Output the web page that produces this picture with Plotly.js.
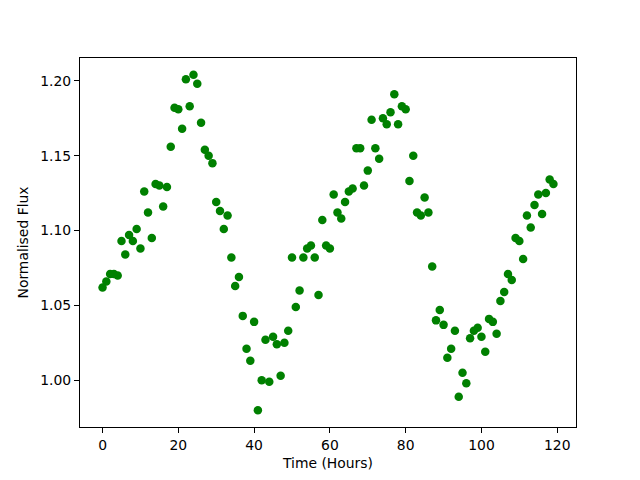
<!DOCTYPE html>
<html>
<head>
<meta charset="utf-8">
<script src="https://cdn.plot.ly/plotly-3.0.1.min.js"></script>
<style>html,body{margin:0;padding:0;background:#fff;}#chart{width:640px;height:480px;}</style>
</head>
<body>
<div id="chart"></div>
<script>
var hours = [];
for (var i = 0; i < 120; i++) hours.push(i);
var flux = [
1.062,1.066,1.071,1.071,1.070,1.093,1.084,1.097,1.093,1.101,
1.088,1.126,1.112,1.095,1.131,1.130,1.116,1.129,1.156,1.182,
1.181,1.168,1.201,1.183,1.204,1.198,1.172,1.154,1.150,1.145,
1.119,1.113,1.101,1.110,1.082,1.063,1.069,1.043,1.021,1.013,
1.039,0.980,1.000,1.027,0.999,1.029,1.024,1.003,1.025,1.033,
1.082,1.049,1.060,1.082,1.088,1.090,1.082,1.057,1.107,1.090,
1.088,1.124,1.112,1.108,1.119,1.126,1.128,1.155,1.155,1.130,
1.140,1.174,1.155,1.148,1.175,1.171,1.179,1.191,1.171,1.183,
1.181,1.133,1.150,1.112,1.110,1.122,1.112,1.076,1.040,1.047,
1.037,1.015,1.021,1.033,0.989,1.005,0.998,1.028,1.033,1.035,
1.029,1.019,1.041,1.039,1.031,1.053,1.059,1.071,1.067,1.095,
1.093,1.081,1.110,1.102,1.117,1.124,1.111,1.125,1.134,1.131
];
var xTicks = [0, 20, 40, 60, 80, 100, 120];
var yTicks = [1.00, 1.05, 1.10, 1.15, 1.20];

function padRange(arr) {
  var mn = Math.min.apply(null, arr), mx = Math.max.apply(null, arr);
  var m = (mx - mn) * 0.05;
  return [mn - m, mx + m];
}

var trace = {
  x: hours, y: flux, type: 'scatter', mode: 'markers',
  marker: {color: '#008000', size: 8.5, line: {width: 0}},
  hoverinfo: 'none'
};
var fontFam = 'DejaVu Sans, sans-serif';
var layout = {
  width: 640, height: 480,
  margin: {l: 80, r: 64, t: 58, b: 53, pad: 0},
  paper_bgcolor: '#fff', plot_bgcolor: '#fff',
  showlegend: false,
  font: {family: fontFam, size: 13.9, color: '#000'},
  xaxis: {
    range: padRange(hours), tickvals: xTicks, ticktext: xTicks.map(String),
    ticks: 'outside', ticklen: 5, tickwidth: 1, tickcolor: '#000',
    showgrid: false, zeroline: false, showline: true, linecolor: '#000', linewidth: 1, mirror: true,
    tickfont: {family: fontFam, size: 13.9, color: '#000'},
    title: {text: 'Time (Hours)', font: {family: fontFam, size: 13.9, color: '#000'}, standoff: 6}
  },
  yaxis: {
    range: padRange(flux), tickvals: yTicks, ticktext: yTicks.map(function(v){return v.toFixed(2);}),
    ticks: 'outside', ticklen: 5, tickwidth: 1, tickcolor: '#000',
    showgrid: false, zeroline: false, showline: true, linecolor: '#000', linewidth: 1, mirror: true,
    tickfont: {family: fontFam, size: 13.9, color: '#000'},
    title: {text: 'Normalised Flux', font: {family: fontFam, size: 13.9, color: '#000'}, standoff: 8}
  }
};
Plotly.newPlot('chart', [trace], layout, {staticPlot: true, displayModeBar: false});
</script>
</body>
</html>
